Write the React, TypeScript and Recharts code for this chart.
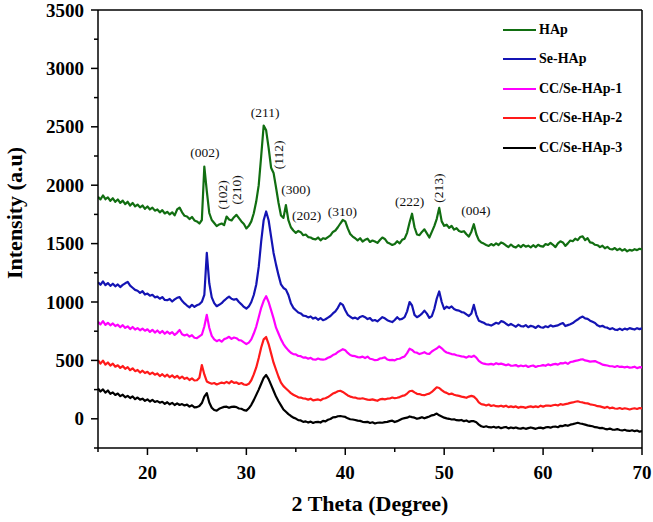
import React from 'react';
import { LineChart, Line, XAxis, YAxis, Legend, ReferenceLine, ReferenceDot } from 'recharts';

const FONT = "'Times New Roman', 'Liberation Serif', serif";

const seriesNames = ['HAp', 'Se-HAp', 'CC/Se-HAp-1', 'CC/Se-HAp-2', 'CC/Se-HAp-3'];
const seriesKeys = ['hap', 'seHap', 'cc1', 'cc2', 'cc3'];
const seriesColors = ['#116e11', '#1414b4', '#ff00ff', '#ff1a1a', '#000000'];

// 2θ scan, 15° to 70° in 0.25° steps
const twoTheta = Array.from({ length: 221 }, (_, i) => 15 + i * 0.25);

const hap = [
  /* 15 */ 1900, 1878, 1912, 1880, /* 16 */ 1896, 1866, 1888, 1858, /* 17 */ 1878, 1848, 1868, 1838,
  /* 18 */ 1858, 1826, 1848, 1818, /* 19 */ 1834, 1810, 1826, 1798, /* 20 */ 1818, 1792, 1808, 1782,
  /* 21 */ 1792, 1768, 1786, 1758, /* 22 */ 1772, 1750, 1768, 1742, /* 23 */ 1792, 1808, 1768, 1738,
  /* 24 */ 1732, 1710, 1728, 1698, /* 25 */ 1690, 1672, 1702, 2160, /* 26 */ 1950, 1762, 1702, 1676,
  /* 27 */ 1650, 1664, 1672, 1658, /* 28 */ 1732, 1706, 1698, 1726, /* 29 */ 1746, 1718, 1690, 1668,
  /* 30 */ 1630, 1652, 1690, 1760, /* 31 */ 1862, 2000, 2250, 2510, /* 32 */ 2470, 2320, 2150, 2105,
  /* 33 */ 1980, 1850, 1740, 1720, /* 34 */ 1830, 1700, 1640, 1612, /* 35 */ 1592, 1608, 1598, 1572,
  /* 36 */ 1578, 1556, 1552, 1540, /* 37 */ 1536, 1552, 1528, 1546, /* 38 */ 1540, 1556, 1570, 1600,
  /* 39 */ 1612, 1640, 1672, 1702, /* 40 */ 1690, 1630, 1582, 1560, /* 41 */ 1546, 1528, 1546, 1518,
  /* 42 */ 1532, 1542, 1514, 1526, /* 43 */ 1518, 1506, 1530, 1552, /* 44 */ 1540, 1510, 1500, 1488,
  /* 45 */ 1496, 1520, 1502, 1532, /* 46 */ 1542, 1592, 1680, 1756, /* 47 */ 1640, 1578, 1572, 1600,
  /* 48 */ 1622, 1588, 1552, 1600, /* 49 */ 1650, 1712, 1806, 1690, /* 50 */ 1652, 1662, 1634, 1652,
  /* 51 */ 1620, 1632, 1608, 1600, /* 52 */ 1606, 1580, 1560, 1602, /* 53 */ 1666, 1580, 1530, 1510,
  /* 54 */ 1500, 1488, 1480, 1496, /* 55 */ 1484, 1502, 1488, 1510, /* 56 */ 1500, 1484, 1470, 1492,
  /* 57 */ 1474, 1466, 1486, 1470, /* 58 */ 1490, 1474, 1482, 1468, /* 59 */ 1486, 1470, 1490, 1478,
  /* 60 */ 1474, 1496, 1488, 1506, /* 61 */ 1490, 1470, 1502, 1520, /* 62 */ 1510, 1480, 1502, 1526,
  /* 63 */ 1520, 1542, 1530, 1556, /* 64 */ 1562, 1530, 1546, 1510, /* 65 */ 1506, 1490, 1486, 1470,
  /* 66 */ 1482, 1460, 1472, 1454, /* 67 */ 1450, 1462, 1444, 1456, /* 68 */ 1440, 1452, 1434, 1446,
  /* 69 */ 1440, 1452, 1444, 1456, /* 70 */ 1450,
];

const seHap = [
  /* 15 */ 1170, 1148, 1176, 1144, /* 16 */ 1162, 1138, 1156, 1134, /* 17 */ 1150, 1128, 1146, 1160,
  /* 18 */ 1172, 1140, 1122, 1104, /* 19 */ 1096, 1078, 1092, 1064, /* 20 */ 1072, 1054, 1062, 1040,
  /* 21 */ 1046, 1028, 1042, 1018, /* 22 */ 1016, 1026, 1004, 1022, /* 23 */ 1036, 1042, 1010, 988,
  /* 24 */ 970, 954, 976, 958, /* 25 */ 972, 980, 1002, 1060, /* 26 */ 1420, 1160, 1040, 990,
  /* 27 */ 964, 976, 990, 1012, /* 28 */ 1030, 1046, 1028, 1020, /* 29 */ 1026, 1000, 980, 958,
  /* 30 */ 944, 962, 1000, 1060, /* 31 */ 1150, 1300, 1520, 1700, /* 32 */ 1775, 1700, 1560, 1420,
  /* 33 */ 1320, 1230, 1150, 1120, /* 34 */ 1106, 1060, 990, 950, /* 35 */ 930, 910, 902, 884,
  /* 36 */ 880, 868, 876, 858, /* 37 */ 866, 848, 862, 844, /* 38 */ 852, 866, 880, 902,
  /* 39 */ 920, 950, 990, 976, /* 40 */ 930, 890, 874, 860, /* 41 */ 866, 854, 872, 880,
  /* 42 */ 870, 854, 862, 840, /* 43 */ 846, 834, 852, 870, /* 44 */ 860, 844, 836, 828,
  /* 45 */ 846, 870, 850, 856, /* 46 */ 870, 920, 1000, 970, /* 47 */ 890, 870, 882, 900,
  /* 48 */ 926, 900, 864, 880, /* 49 */ 940, 1030, 1090, 1000, /* 50 */ 940, 960, 948, 962,
  /* 51 */ 940, 930, 926, 914, /* 52 */ 910, 894, 880, 902, /* 53 */ 975, 890, 840, 830,
  /* 54 */ 822, 808, 806, 798, /* 55 */ 810, 822, 814, 836, /* 56 */ 830, 814, 800, 812,
  /* 57 */ 800, 788, 806, 794, /* 58 */ 790, 802, 784, 796, /* 59 */ 790, 778, 796, 784,
  /* 60 */ 780, 792, 784, 800, /* 61 */ 790, 796, 800, 812, /* 62 */ 820, 794, 802, 810,
  /* 63 */ 820, 836, 850, 866, /* 64 */ 875, 860, 856, 840, /* 65 */ 830, 820, 800, 790,
  /* 66 */ 796, 784, 780, 768, /* 67 */ 776, 764, 760, 772, /* 68 */ 760, 772, 764, 776,
  /* 69 */ 770, 764, 776, 768, /* 70 */ 775,
];

const cc1 = [
  /* 15 */ 830, 808, 836, 804, /* 16 */ 822, 800, 816, 794, /* 17 */ 806, 784, 802, 778,
  /* 18 */ 792, 768, 786, 764, /* 19 */ 776, 758, 772, 754, /* 20 */ 766, 744, 762, 738,
  /* 21 */ 756, 734, 752, 728, /* 22 */ 746, 728, 742, 718, /* 23 */ 736, 760, 724, 714,
  /* 24 */ 722, 704, 716, 694, /* 25 */ 690, 706, 720, 790, /* 26 */ 890, 780, 710, 680,
  /* 27 */ 664, 676, 660, 682, /* 28 */ 690, 702, 684, 696, /* 29 */ 690, 674, 670, 654,
  /* 30 */ 640, 652, 680, 730, /* 31 */ 790, 870, 950, 1010, /* 32 */ 1050, 1000, 930, 860,
  /* 33 */ 780, 730, 680, 640, /* 34 */ 610, 586, 566, 554, /* 35 */ 552, 538, 536, 524,
  /* 36 */ 526, 514, 522, 508, /* 37 */ 506, 516, 508, 506, /* 38 */ 510, 522, 530, 546,
  /* 39 */ 554, 572, 584, 596, /* 40 */ 586, 564, 546, 538, /* 41 */ 536, 528, 526, 532,
  /* 42 */ 520, 532, 514, 510, /* 43 */ 502, 504, 516, 520, /* 44 */ 526, 508, 502, 504,
  /* 45 */ 500, 512, 514, 526, /* 46 */ 534, 562, 600, 590, /* 47 */ 570, 566, 554, 562,
  /* 48 */ 570, 558, 556, 576, /* 49 */ 590, 602, 620, 604, /* 50 */ 582, 568, 562, 554,
  /* 51 */ 552, 544, 540, 534, /* 52 */ 532, 524, 536, 530, /* 53 */ 540, 524, 496, 480,
  /* 54 */ 472, 468, 466, 470, /* 55 */ 464, 476, 468, 472, /* 56 */ 466, 458, 466, 454,
  /* 57 */ 456, 460, 448, 456, /* 58 */ 450, 456, 444, 452, /* 59 */ 456, 444, 452, 454,
  /* 60 */ 460, 454, 466, 458, /* 61 */ 466, 470, 464, 476, /* 62 */ 474, 482, 470, 486,
  /* 63 */ 490, 496, 500, 506, /* 64 */ 510, 500, 496, 490, /* 65 */ 492, 494, 484, 476,
  /* 66 */ 464, 460, 456, 450, /* 67 */ 450, 444, 452, 444, /* 68 */ 446, 440, 446, 438,
  /* 69 */ 440, 446, 434, 442, /* 70 */ 440,
];

const cc2 = [
  /* 15 */ 502, 472, 498, 464, /* 16 */ 482, 456, 472, 446, /* 17 */ 458, 436, 452, 428,
  /* 18 */ 442, 416, 432, 408, /* 19 */ 418, 396, 412, 392, /* 20 */ 402, 382, 396, 378,
  /* 21 */ 388, 366, 382, 362, /* 22 */ 378, 356, 372, 352, /* 23 */ 368, 346, 362, 342,
  /* 24 */ 352, 332, 346, 328, /* 25 */ 330, 352, 460, 380, /* 26 */ 320, 308, 300, 306,
  /* 27 */ 294, 302, 310, 304, /* 28 */ 316, 304, 322, 308, /* 29 */ 312, 298, 306, 294,
  /* 30 */ 290, 300, 330, 380, /* 31 */ 440, 520, 610, 680, /* 32 */ 700, 640, 560, 480,
  /* 33 */ 420, 360, 310, 280, /* 34 */ 260, 240, 220, 206, /* 35 */ 196, 184, 182, 174,
  /* 36 */ 172, 164, 172, 158, /* 37 */ 162, 166, 158, 172, /* 38 */ 176, 186, 200, 216,
  /* 39 */ 224, 236, 240, 230, /* 40 */ 216, 200, 190, 184, /* 41 */ 182, 174, 172, 176,
  /* 42 */ 170, 164, 162, 166, /* 43 */ 160, 154, 166, 170, /* 44 */ 166, 172, 174, 182,
  /* 45 */ 176, 180, 186, 196, /* 46 */ 200, 216, 236, 240, /* 47 */ 226, 214, 212, 204,
  /* 48 */ 202, 210, 216, 230, /* 49 */ 250, 270, 264, 246, /* 50 */ 230, 222, 210, 216,
  /* 51 */ 206, 200, 196, 190, /* 52 */ 186, 180, 190, 196, /* 53 */ 190, 170, 140, 126,
  /* 54 */ 122, 114, 122, 110, /* 55 */ 116, 108, 106, 112, /* 56 */ 104, 112, 100, 106,
  /* 57 */ 100, 106, 94, 102, /* 58 */ 100, 94, 102, 106, /* 59 */ 100, 106, 100, 112,
  /* 60 */ 104, 112, 114, 110, /* 61 */ 116, 120, 114, 126, /* 62 */ 120, 126, 130, 136,
  /* 63 */ 140, 146, 150, 144, /* 64 */ 140, 134, 132, 124, /* 65 */ 120, 116, 108, 106,
  /* 66 */ 100, 94, 102, 90, /* 67 */ 96, 88, 86, 92, /* 68 */ 84, 90, 86, 80,
  /* 69 */ 86, 90, 84, 92, /* 70 */ 90,
];

const cc3 = [
  /* 15 */ 260, 234, 252, 224, /* 16 */ 242, 214, 226, 204, /* 17 */ 216, 194, 206, 184,
  /* 18 */ 196, 178, 192, 168, /* 19 */ 182, 164, 172, 154, /* 20 */ 166, 148, 162, 144,
  /* 21 */ 152, 138, 146, 128, /* 22 */ 142, 124, 136, 118, /* 23 */ 132, 118, 126, 114,
  /* 24 */ 122, 104, 116, 98, /* 25 */ 100, 110, 135, 190, /* 26 */ 220, 140, 95, 75,
  /* 27 */ 70, 86, 94, 102, /* 28 */ 104, 94, 102, 104, /* 29 */ 100, 88, 86, 74,
  /* 30 */ 70, 90, 120, 160, /* 31 */ 205, 250, 300, 350, /* 32 */ 375, 340, 290, 240,
  /* 33 */ 190, 150, 115, 80, /* 34 */ 60, 40, 24, 10, /* 35 */ 2, -12, -14, -26,
  /* 36 */ -22, -32, -24, -36, /* 37 */ -28, -26, -32, -18, /* 38 */ -22, -8, -2, 12,
  /* 39 */ 14, 22, 24, 20, /* 40 */ 16, 4, -4, -6, /* 41 */ -10, -16, -18, -26,
  /* 42 */ -28, -26, -36, -30, /* 43 */ -40, -34, -32, -34, /* 44 */ -28, -26, -20, -16,
  /* 45 */ -28, -20, -10, 0, /* 46 */ 6, 10, 20, 14, /* 47 */ 10, 0, 6, 14,
  /* 48 */ 4, 12, 20, 30, /* 49 */ 34, 45, 30, 20, /* 50 */ 10, 4, 0, -6,
  /* 51 */ -4, -12, -14, -10, /* 52 */ -20, -14, -26, -20, /* 53 */ -20, -30, -50, -64,
  /* 54 */ -70, -64, -72, -74, /* 55 */ -68, -76, -70, -80, /* 56 */ -74, -70, -82, -74,
  /* 57 */ -80, -74, -82, -84, /* 58 */ -78, -86, -80, -74, /* 59 */ -80, -86, -78, -76,
  /* 60 */ -82, -74, -70, -76, /* 61 */ -68, -66, -72, -60, /* 62 */ -62, -54, -60, -50,
  /* 63 */ -46, -40, -34, -40, /* 64 */ -44, -50, -56, -60, /* 65 */ -64, -72, -74, -80,
  /* 66 */ -78, -86, -90, -84, /* 67 */ -92, -94, -88, -96, /* 68 */ -100, -94, -102, -104,
  /* 69 */ -98, -106, -100, -110, /* 70 */ -105,
];

const seriesValues = [hap, seHap, cc1, cc2, cc3];

// Miller-index annotations above the HAp pattern
const peakLabels = ['(002)', '(102)', '(210)', '(211)', '(112)', '(300)', '(202)', '(310)', '(222)', '(213)', '(004)'];
const peakLabelX = [25.8, 27.6, 29.0, 31.9, 33.3, 35.0, 36.1, 39.7, 46.5, 49.45, 53.2];
const peakLabelY = [2277, 1917, 1960, 2619, 2260, 1960, 1738, 1775, 1860, 1975, 1783];
const peakLabelVertical = [false, true, true, false, true, false, false, false, false, true, false];

const xTicks = [15, 20, 25, 30, 35, 40, 45, 50, 55, 60, 65, 70];
const yTicks = [-250, 0, 250, 500, 750, 1000, 1250, 1500, 1750, 2000, 2250, 2500, 2750, 3000, 3250, 3500];

const rows = twoTheta.map((x, i) => {
  const row: any = { x };
  seriesKeys.forEach((k, s) => {
    row[k] = seriesValues[s][i];
  });
  return row;
});

function XTick(props: any) {
  const { x, y, payload } = props;
  const major = payload.value % 10 === 0;
  return (
    <g>
      <line x1={x} y1={y} x2={x} y2={y + (major ? 7 : 4)} stroke="#000" strokeWidth={1.5} />
      {major && (
        <text x={x} y={y + 31} textAnchor="middle" fontFamily={FONT} fontWeight="bold" fontSize={19} fill="#000">
          {payload.value}
        </text>
      )}
    </g>
  );
}

function YTick(props: any) {
  const { x, y, payload } = props;
  const major = payload.value % 500 === 0;
  return (
    <g>
      <line x1={x} y1={y} x2={x - (major ? 7 : 4)} y2={y} stroke="#000" strokeWidth={1.5} />
      {major && (
        <text x={x - 14} y={y + 6.5} textAnchor="end" fontFamily={FONT} fontWeight="bold" fontSize={19} fill="#000">
          {payload.value}
        </text>
      )}
    </g>
  );
}

function PeakLabel(props: any) {
  const { viewBox, text, vertical } = props;
  const cx = viewBox.x + (viewBox.width || 0) / 2;
  const cy = viewBox.y + (viewBox.height || 0) / 2;
  return (
    <text
      x={cx}
      y={cy}
      textAnchor="middle"
      dominantBaseline="central"
      transform={vertical ? `rotate(-90 ${cx} ${cy})` : undefined}
      fontFamily={FONT}
      fontSize={13.5}
      fill="#111"
    >
      {text}
    </text>
  );
}

function renderLegend() {
  return (
    <div style={{ fontFamily: FONT, fontWeight: 'bold', fontSize: 14, color: '#000' }}>
      {seriesNames.map((name, i) => (
        <div key={name} style={{ display: 'flex', alignItems: 'center', height: 29.5 }}>
          <span style={{ display: 'inline-block', width: 33, borderTop: `2px solid ${seriesColors[i]}`, marginRight: 3 }} />
          {name}
        </div>
      ))}
    </div>
  );
}

export default function App() {
  return (
    <div style={{ position: 'absolute', left: 0, top: 0, width: 653, height: 522, background: '#fff' }}>
      <LineChart width={653} height={522} data={rows} margin={{ top: 10, right: 11, left: 0, bottom: 0 }}>
        <XAxis
          type="number"
          dataKey="x"
          domain={[15, 70]}
          ticks={xTicks}
          interval={0}
          tick={<XTick />}
          tickLine={false}
          tickSize={0}
          tickMargin={0}
          height={74}
          allowDataOverflow
          axisLine={{ stroke: '#000', strokeWidth: 1.5 }}
          label={{
            value: '2 Theta (Degree)',
            position: 'insideBottom',
            offset: 11,
            style: { fontFamily: FONT, fontWeight: 'bold', fontSize: 22, fill: '#000' },
          }}
        />
        <YAxis
          type="number"
          domain={[-250, 3500]}
          ticks={yTicks}
          interval={0}
          tick={<YTick />}
          tickLine={false}
          tickSize={0}
          tickMargin={0}
          width={98}
          allowDataOverflow
          axisLine={{ stroke: '#000', strokeWidth: 1.5 }}
          label={{
            content: () => (
              <text
                x={14}
                y={213}
                transform="rotate(-90 14 213)"
                textAnchor="middle"
                dominantBaseline="central"
                fontFamily={FONT}
                fontWeight="bold"
                fontSize={22}
                fill="#000"
              >
                Intensity (a.u)
              </text>
            ),
          }}
        />
        <ReferenceLine y={3500} stroke="#000" strokeWidth={1.5} />
        <ReferenceLine x={70} stroke="#000" strokeWidth={1.5} />
        {seriesKeys.map((k, i) => (
          <Line
            key={k}
            type="linear"
            dataKey={k}
            name={seriesNames[i]}
            stroke={seriesColors[i]}
            strokeWidth={2.2}
            strokeLinejoin="round"
            dot={false}
            isAnimationActive={false}
          />
        ))}
        {peakLabels.map((t, i) => (
          <ReferenceDot
            key={t}
            x={peakLabelX[i]}
            y={peakLabelY[i]}
            r={0}
            fill="none"
            stroke="none"
            ifOverflow="visible"
            label={<PeakLabel text={t} vertical={peakLabelVertical[i]} />}
          />
        ))}
        <Legend
          layout="vertical"
          align="center"
          verticalAlign="middle"
          content={renderLegend}
          wrapperStyle={{ position: 'absolute', left: 503, top: 15, width: 150 }}
        />
      </LineChart>
    </div>
  );
}
